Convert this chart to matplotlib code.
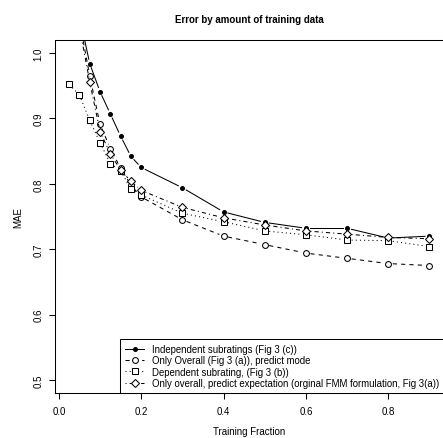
import matplotlib.pyplot as plt
from matplotlib.lines import Line2D

plt.rcParams['font.family'] = ['Liberation Sans', 'DejaVu Sans']

# values (points above 1.02 are off the chart)
fraction = [0.025, 0.05, 0.075, 0.1, 0.125, 0.15, 0.175, 0.2, 0.3, 0.4, 0.5, 0.6, 0.7, 0.8, 0.9]
independent = [1.15, 1.057, 0.984, 0.941, 0.907, 0.873, 0.842, 0.825, 0.794, 0.757, 0.741, 0.732, 0.732, 0.717, 0.720]
overall_mode = [1.12, 1.05, 0.965, 0.891, 0.854, 0.824, 0.798, 0.780, 0.745, 0.720, 0.707, 0.694, 0.686, 0.678, 0.675]
dependent = [0.952, 0.936, 0.897, 0.863, 0.831, 0.820, 0.792, 0.783, 0.755, 0.742, 0.728, 0.722, 0.714, 0.713, 0.704]
overall_expect = [1.10, 1.04, 0.956, 0.880, 0.846, 0.821, 0.804, 0.790, 0.764, 0.748, 0.737, 0.728, 0.723, 0.718, 0.716]

labels = ["Independent subratings (Fig 3 (c))",
          "Only Overall (Fig 3 (a)), predict mode",
          "Dependent subrating, (Fig 3 (b))",
          "Only overall, predict expectation (orginal FMM formulation, Fig 3(a))"]

fig = plt.figure(figsize=(4.43, 4.39), dpi=100)
ax = fig.add_axes([0.1235, 0.1025, 0.8785, 0.8041])
ax.set_xlim(-0.01, 0.935)
ax.set_ylim(0.48, 1.02)

styles = [
    (independent, (None, None), 'o', 2.8, 'black'),
    (overall_mode, (4, 4), 'o', 4.2, 'white'),
    (dependent, (1, 3), 's', 3.8, 'white'),
    (overall_expect, (1, 3, 4, 3), 'D', 3.6, 'white'),
]

LW = 0.75
GAP = 4.5  # pixels left empty around each point, like R type="b"

handles = []
for (vals, dashes, marker, size, fill), lab in zip(styles, labels):
    pts = ax.transData.transform(list(zip(fraction, vals)))
    for (x0, y0), (x1, y1) in zip(pts[:-1], pts[1:]):
        dx, dy = x1 - x0, y1 - y0
        d = (dx ** 2 + dy ** 2) ** 0.5
        if d <= 2 * GAP:
            continue
        ux, uy = dx / d, dy / d
        seg = ax.transData.inverted().transform(
            [(x0 + ux * GAP, y0 + uy * GAP), (x1 - ux * GAP, y1 - uy * GAP)])
        ln, = ax.plot(seg[:, 0], seg[:, 1], color='black', lw=LW)
        if dashes[0] is not None:
            ln.set_dashes(dashes)
    ax.plot(fraction, vals, ls='none', marker=marker, ms=size,
            mfc=fill, mec='black', mew=LW)
    h = Line2D([], [], color='black', lw=LW, marker=marker, ms=size,
               mfc=fill, mec='black', mew=LW)
    if dashes[0] is not None:
        h.set_dashes(dashes)
    handles.append(h)

ax.set_xticks([0.0, 0.2, 0.4, 0.6, 0.8])
ax.set_xticklabels(['0.0', '0.2', '0.4', '0.6', '0.8'])
ax.set_yticks([0.5, 0.6, 0.7, 0.8, 0.9, 1.0])
ax.set_yticklabels(['0.5', '0.6', '0.7', '0.8', '0.9', '1.0'], rotation=90, va='center')
ax.tick_params(direction='out', length=4.3, width=LW, labelsize=7, color='black')
ax.tick_params(axis='x', pad=5)
ax.tick_params(axis='y', pad=4)
for s in ax.spines.values():
    s.set_linewidth(LW)

ax.set_title('Error by amount of training data', fontsize=7, fontweight='bold', pad=13)
ax.set_xlabel('Training Fraction', fontsize=7, labelpad=7)
ax.set_ylabel('MAE', fontsize=7, labelpad=7)

leg = ax.legend(handles, labels, loc='lower right', fontsize=6.9, frameon=True,
                fancybox=False, edgecolor='black', framealpha=1, borderaxespad=0,
                handlelength=2.0, handletextpad=0.8, labelspacing=0.15,
                borderpad=0.5)
leg.get_frame().set_linewidth(LW)

fig.savefig('out.png', dpi=100)
